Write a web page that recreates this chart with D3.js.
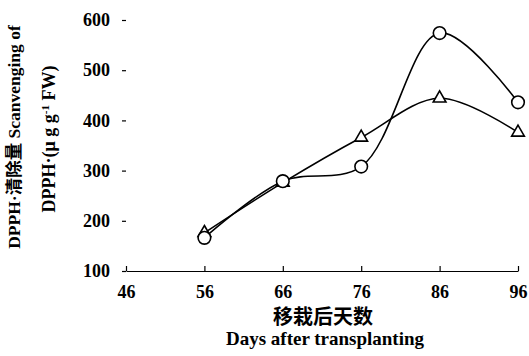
<!DOCTYPE html>
<html>
<head>
<meta charset="utf-8">
<script src="https://cdn.jsdelivr.net/npm/d3@7"></script>
<style>
  body { margin: 0; background: #fff; }
  text { font-family: "Liberation Serif", "Noto Sans CJK SC", serif; font-weight: bold; fill: #000; }
</style>
</head>
<body>
<svg id="chart"></svg>
<script>
// days after transplanting
const days = [56, 66, 76, 86, 96]
// DPPH scavenging, two treatments
const circleVals = [166, 279, 308, 574, 436]
const triangleVals = [176, 276, 366, 444, 376]
const xTicks = [46, 56, 66, 76, 86, 96]
const yTicks = [100, 200, 300, 400, 500, 600]

const W = 529, H = 356
const margin = {top: 20, bottom: 85, left: 126, right: 11}
const width = W - margin.left - margin.right
const height = H - margin.top - margin.bottom

const svg = d3.select('#chart').attr('width', W).attr('height', H)
const g = svg.append('g').attr('transform', `translate(${margin.left},${margin.top})`)

const x = d3.scaleLinear().domain([46, 96]).range([0, width])
const y = d3.scaleLinear().domain([100, 600]).range([height, 0])

// x axis: baseline with small upward ticks
const xAxis = g.append('g').attr('transform', `translate(0,${height})`)
  .call(d3.axisBottom(x).tickValues(xTicks).tickSize(-5).tickPadding(14).tickSizeOuter(0))
xAxis.select('.domain').attr('stroke', '#000').attr('stroke-width', 1.2)
xAxis.selectAll('.tick line').attr('stroke-width', 1.2)
xAxis.selectAll('text').attr('font-size', 18)

// y axis: only short dashes, no line
const yAxis = g.append('g')
  .call(d3.axisLeft(y).tickValues(yTicks).tickSize(4).tickPadding(12))
yAxis.select('.domain').remove()
yAxis.selectAll('.tick line').attr('stroke-width', 1.2)
yAxis.selectAll('text').attr('font-size', 18)

const line = d3.line().x((d, i) => x(days[i])).y(d => y(d)).curve(d3.curveCatmullRom.alpha(0.5))

g.append('path').datum(triangleVals).attr('d', line)
  .attr('fill', 'none').attr('stroke', '#000').attr('stroke-width', 1.6)
g.append('path').datum(circleVals).attr('d', line)
  .attr('fill', 'none').attr('stroke', '#000').attr('stroke-width', 1.6)

g.selectAll('.tri').data(triangleVals).join('path').attr('class', 'tri')
  .attr('d', d3.symbol(d3.symbolTriangle, 70))
  .attr('transform', (d, i) => `translate(${x(days[i])},${y(d)})`)
  .attr('fill', '#fff').attr('stroke', '#000').attr('stroke-width', 1.6)

g.selectAll('.circ').data(circleVals).join('circle').attr('class', 'circ')
  .attr('cx', (d, i) => x(days[i])).attr('cy', d => y(d)).attr('r', 6.3)
  .attr('fill', '#fff').attr('stroke', '#000').attr('stroke-width', 1.6)

// axis titles
svg.append('text').attr('x', 323).attr('y', 324)
  .attr('text-anchor', 'middle').attr('font-size', 20).text('移栽后天数')
svg.append('text').attr('x', 325).attr('y', 345)
  .attr('text-anchor', 'middle').attr('font-size', 19).text('Days after transplanting')

svg.append('text').attr('transform', 'translate(20,137) rotate(-90)')
  .attr('text-anchor', 'middle').attr('font-size', 17.5).text('DPPH·清除量 Scanvenging of')
svg.append('text').attr('transform', 'translate(55,139) rotate(-90)')
  .attr('text-anchor', 'middle').attr('font-size', 18)
  .html('DPPH·(μ g g<tspan dy="-6" font-size="11">-1</tspan><tspan dy="6"> FW)</tspan>')
</script>
</body>
</html>
